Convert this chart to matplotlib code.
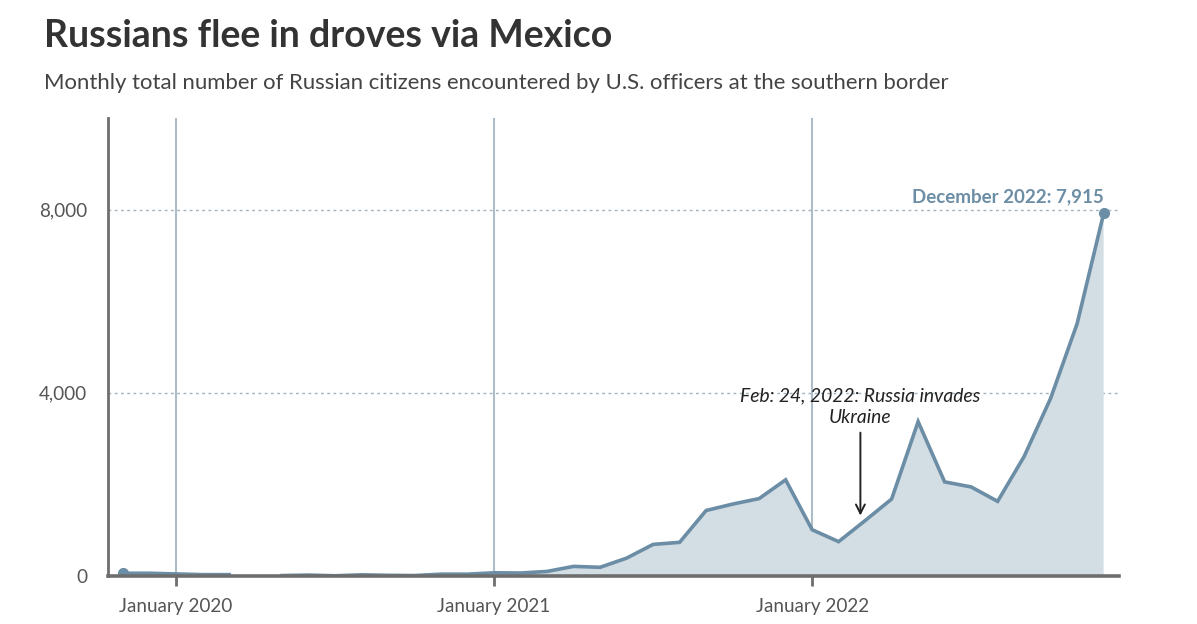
import numpy as np
import matplotlib
matplotlib.use("Agg")
import matplotlib.pyplot as plt

# Data: monthly counts, Nov 2019 .. Dec 2022 (April 2020 missing)
months = ["Nov 2019", "Dec 2019",
          "Jan 2020", "Feb 2020", "Mar 2020", "Apr 2020", "May 2020", "Jun 2020",
          "Jul 2020", "Aug 2020", "Sep 2020", "Oct 2020", "Nov 2020", "Dec 2020",
          "Jan 2021", "Feb 2021", "Mar 2021", "Apr 2021", "May 2021", "Jun 2021",
          "Jul 2021", "Aug 2021", "Sep 2021", "Oct 2021", "Nov 2021", "Dec 2021",
          "Jan 2022", "Feb 2022", "Mar 2022", "Apr 2022", "May 2022", "Jun 2022",
          "Jul 2022", "Aug 2022", "Sep 2022", "Oct 2022", "Nov 2022", "Dec 2022"]
values = [60, 60,
          45, 30, 30, np.nan, 10, 20,
          5, 25, 15, 10, 40, 40,
          70, 65, 100, 210, 190, 390,
          690, 735, 1430, 1570, 1690, 2100,
          1010, 750, 1210, 1680, 3370, 2055,
          1945, 1630, 2610, 3880, 5510, 7915]
xtick_labels = ["January 2020", "January 2021", "January 2022"]
ytick_values = [0, 4000, 8000]
ytick_labels = ["0", "4,000", "8,000"]

line_c = "#6b8da5"
fill_c = "#d3dde4"
grid_c = "#aebcc7"
axis_c = "#6e6e6e"

FONT = "Lato"
plt.rcParams["font.family"] = [FONT, "DejaVu Sans"]

W, H = 1197, 624
fig = plt.figure(figsize=(W / 100, H / 100), dpi=100)
ax = fig.add_axes([108 / W, 1 - 576 / H, (1119 - 108) / W, (576 - 118) / H])

x = np.arange(len(months))
y = np.array(values, dtype=float)
xtick_pos = [months.index(m.replace("January", "Jan")) for m in xtick_labels]

ax.set_xlim(-0.57, 37.58)
ax.set_ylim(0, 10000)

# gridlines
for xp in xtick_pos:
    ax.axvline(xp, color=grid_c, lw=1.5, zorder=1)
for yv in ytick_values[1:]:
    ax.axhline(yv, color="#a3b2bc", lw=1, ls=(0, (2, 2.5)), zorder=1)

ax.fill_between(x, 0, y, color=fill_c, lw=0, zorder=2)
ax.plot(x, y, color=line_c, lw=2.6, zorder=3, solid_joinstyle="miter")
ax.plot([x[0], x[-1]], [y[0], y[-1]], "o", color=line_c, ms=7, zorder=4)

for s in ["top", "right"]:
    ax.spines[s].set_visible(False)
ax.spines["left"].set_color(axis_c)
ax.spines["left"].set_linewidth(2)
ax.spines["bottom"].set_color(axis_c)
ax.spines["bottom"].set_linewidth(2.6)
ax.spines["bottom"].set_zorder(5)

ax.set_xticks(xtick_pos)
ax.set_xticklabels(xtick_labels, fontsize=13.6, color="#555555")
ax.tick_params(axis="x", length=7, width=2, color=axis_c, pad=9)
ax.set_yticks(ytick_values)
ax.set_yticklabels(ytick_labels, fontsize=13.6, color="#555555")
ax.tick_params(axis="y", length=0, pad=15)

# annotations
ax.text(x[-1], 8150, "December 2022: 7,915", ha="right", va="baseline",
        fontsize=13.5, fontweight="bold", color=line_c)
feb_idx = months.index("Feb 2022") + 23 / 28
ax.text(feb_idx, 3700, "Feb: 24, 2022: Russia invades\nUkraine", ha="center", va="center",
        fontsize=13.9, style="italic", color="#222222", linespacing=1.32)
ax.annotate("", xy=(feb_idx, 1320), xytext=(feb_idx, 3130),
            arrowprops=dict(arrowstyle="->", color="#222222", lw=1.4,
                            mutation_scale=16, shrinkA=0, shrinkB=0))

fig.text(44 / W, 1 - 36 / H, "Russians flee in droves via Mexico", fontsize=27,
         fontweight="bold", color="#333333", va="center", ha="left")
fig.text(44 / W, 1 - 83 / H,
         "Monthly total number of Russian citizens encountered by U.S. officers at the southern border",
         fontsize=15.9, color="#444444", va="center", ha="left")

fig.savefig("out.png", dpi=100)
